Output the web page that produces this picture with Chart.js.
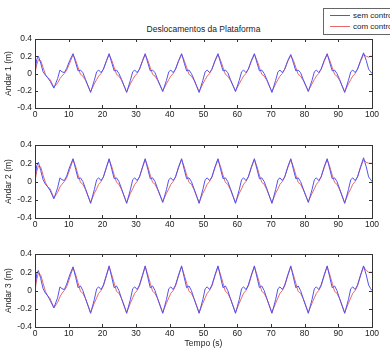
<!DOCTYPE html>
<html>
<head>
<meta charset="utf-8">
<script src="https://cdn.jsdelivr.net/npm/chart.js@4.4.0/dist/chart.umd.min.js"></script>
<style>
body{margin:0;width:390px;height:349px;overflow:hidden;background:#fff;position:relative;font-family:"Liberation Sans",Arial,sans-serif}
canvas{position:absolute;left:0}
#title{position:absolute;left:35px;width:337px;top:24px;text-align:center;font-size:8.5px;color:#222}
#legend{position:absolute;left:323px;top:8px;width:90px;height:25px;border:1px solid #666;background:#fff;font-size:8px;color:#222}
#legend div{position:absolute;left:6px;height:11px;line-height:11px;white-space:nowrap}
#legend span{display:inline-block;width:20px;height:0;vertical-align:middle;margin-right:3px}
</style>
</head>
<body>
<div id="title">Deslocamentos da Plataforma</div>
<canvas id="c1" width="390" height="95" style="top:29px"></canvas>
<canvas id="c2" width="390" height="99" style="top:135px"></canvas>
<canvas id="c3" width="390" height="105" style="top:244px"></canvas>
<div id="legend">
<div style="top:1px"><span style="border-top:1px solid #5252f0"></span>sem controle</div>
<div style="top:12px"><span style="border-top:1px solid #e86868"></span>com controle</div>
</div>
<script>
// tempo (s)
const tempo = [0,0.5,1.0,1.7,2.4,3.1,3.8,4.5,5.6,6.7,7.4,8.0,8.7,9.4,10.3,
11.3,12.1,12.8,13.5,14.2,15.0,16.5,17.6,18.3,18.9,19.6,20.3,21.2,
22.0,22.8,23.5,24.2,24.9,25.7,27.2,28.3,29.0,29.6,30.3,31.0,31.9,
32.7,33.5,34.2,34.9,35.6,36.4,37.9,39.0,39.7,40.3,41.0,41.7,42.6,
43.5,44.3,45.0,45.7,46.4,47.2,48.7,49.8,50.5,51.1,51.8,52.5,53.4,
54.3,55.1,55.8,56.5,57.2,58.0,59.5,60.6,61.3,61.9,62.6,63.3,64.2,
65.1,65.9,66.6,67.3,68.0,68.8,70.3,71.4,72.1,72.7,73.4,74.1,75.0,
75.9,76.7,77.4,78.1,78.8,79.6,81.1,82.2,82.9,83.5,84.2,84.9,85.8,
86.7,87.5,88.2,88.9,89.6,90.4,91.9,93.0,93.7,94.3,95.0,95.7,96.6,
97.5,98.3,99.0,99.6,100]

const andar1Sem = [0.03,0.16,0.20,0.12,0.02,-0.02,-0.05,-0.09,-0.17,-0.06,0.04,0.02,0.01,0.06,0.15,
0.23,0.12,0.03,0.04,0.01,-0.07,-0.22,-0.08,0.02,0.04,0.01,0.05,0.15,
0.23,0.12,0.03,0.04,0.00,-0.07,-0.22,-0.08,0.02,0.04,0.01,0.05,0.15,
0.23,0.12,0.03,0.04,0.01,-0.07,-0.21,-0.08,0.02,0.04,0.01,0.05,0.15,
0.23,0.12,0.03,0.04,0.00,-0.07,-0.22,-0.08,0.02,0.04,0.01,0.05,0.15,
0.23,0.12,0.03,0.04,0.01,-0.07,-0.21,-0.08,0.02,0.04,0.01,0.05,0.15,
0.23,0.12,0.03,0.04,0.00,-0.07,-0.22,-0.08,0.02,0.04,0.01,0.05,0.15,
0.22,0.12,0.03,0.04,0.01,-0.07,-0.21,-0.08,0.02,0.04,0.01,0.05,0.15,
0.23,0.12,0.03,0.04,0.00,-0.07,-0.22,-0.08,0.02,0.04,0.01,0.05,0.15,
0.24,0.15,0.05,0.02,0.00]
const andar1Com = [0.00,0.10,0.16,0.15,0.07,-0.01,-0.05,-0.07,-0.16,-0.11,-0.06,-0.03,0.00,0.04,0.12,
0.22,0.15,0.07,-0.01,-0.03,-0.08,-0.21,-0.12,-0.07,-0.03,0.00,0.05,0.14,
0.22,0.15,0.07,-0.01,-0.03,-0.08,-0.21,-0.12,-0.07,-0.03,0.00,0.05,0.14,
0.22,0.15,0.07,-0.01,-0.03,-0.08,-0.20,-0.12,-0.07,-0.03,0.00,0.05,0.14,
0.22,0.15,0.07,-0.01,-0.03,-0.08,-0.21,-0.12,-0.07,-0.03,0.00,0.05,0.14,
0.22,0.15,0.07,-0.01,-0.03,-0.08,-0.20,-0.12,-0.07,-0.03,0.00,0.05,0.14,
0.22,0.15,0.07,-0.01,-0.03,-0.08,-0.21,-0.12,-0.07,-0.03,0.00,0.05,0.14,
0.21,0.15,0.07,-0.01,-0.03,-0.08,-0.20,-0.12,-0.07,-0.03,0.00,0.05,0.14,
0.22,0.15,0.07,-0.01,-0.03,-0.08,-0.21,-0.12,-0.07,-0.03,0.00,0.05,0.14,
0.22,0.20,0.19,0.20,0.20]

const andar2Sem = [0.03,0.17,0.21,0.12,0.02,-0.03,-0.06,-0.10,-0.19,-0.07,0.04,0.02,0.01,0.06,0.16,
0.25,0.13,0.03,0.04,0.00,-0.08,-0.24,-0.09,0.02,0.04,0.01,0.05,0.16,
0.25,0.13,0.03,0.04,0.00,-0.08,-0.24,-0.09,0.02,0.04,0.01,0.05,0.16,
0.25,0.13,0.03,0.04,0.00,-0.08,-0.23,-0.09,0.02,0.04,0.01,0.05,0.16,
0.25,0.13,0.03,0.04,0.00,-0.08,-0.24,-0.09,0.02,0.04,0.01,0.05,0.16,
0.25,0.13,0.03,0.04,0.00,-0.08,-0.24,-0.09,0.02,0.04,0.01,0.05,0.16,
0.25,0.13,0.03,0.04,0.00,-0.08,-0.24,-0.09,0.02,0.04,0.01,0.05,0.16,
0.25,0.13,0.03,0.04,0.00,-0.08,-0.23,-0.09,0.02,0.04,0.01,0.05,0.16,
0.25,0.13,0.03,0.04,0.00,-0.08,-0.24,-0.09,0.02,0.04,0.01,0.05,0.16,
0.26,0.16,0.05,0.02,0.00]
const andar2Com = [0.00,0.11,0.17,0.16,0.07,-0.01,-0.06,-0.08,-0.18,-0.12,-0.06,-0.03,0.00,0.04,0.13,
0.24,0.16,0.07,-0.01,-0.03,-0.09,-0.23,-0.13,-0.08,-0.03,0.00,0.05,0.15,
0.24,0.16,0.07,-0.01,-0.03,-0.09,-0.23,-0.13,-0.08,-0.03,0.00,0.05,0.15,
0.24,0.16,0.07,-0.01,-0.03,-0.09,-0.22,-0.13,-0.08,-0.03,0.00,0.05,0.15,
0.24,0.16,0.07,-0.01,-0.03,-0.09,-0.23,-0.13,-0.08,-0.03,0.00,0.05,0.15,
0.24,0.16,0.07,-0.01,-0.03,-0.09,-0.23,-0.13,-0.08,-0.03,0.00,0.05,0.15,
0.24,0.16,0.07,-0.01,-0.03,-0.09,-0.23,-0.13,-0.08,-0.03,0.00,0.05,0.15,
0.24,0.16,0.07,-0.01,-0.03,-0.09,-0.22,-0.13,-0.08,-0.03,0.00,0.05,0.15,
0.24,0.16,0.07,-0.01,-0.03,-0.09,-0.23,-0.13,-0.08,-0.03,0.00,0.05,0.15,
0.24,0.21,0.20,0.20,0.20]

const andar3Sem = [0.03,0.18,0.22,0.13,0.02,-0.03,-0.06,-0.11,-0.19,-0.08,0.04,0.02,0.01,0.07,0.17,
0.26,0.14,0.03,0.05,0.00,-0.09,-0.25,-0.10,0.02,0.04,0.01,0.06,0.17,
0.27,0.14,0.03,0.05,0.00,-0.09,-0.25,-0.10,0.02,0.04,0.01,0.06,0.17,
0.27,0.14,0.03,0.05,0.00,-0.09,-0.25,-0.10,0.02,0.04,0.01,0.06,0.17,
0.27,0.14,0.03,0.05,0.00,-0.09,-0.25,-0.10,0.02,0.04,0.01,0.06,0.17,
0.27,0.14,0.03,0.05,0.00,-0.09,-0.25,-0.10,0.02,0.04,0.01,0.06,0.17,
0.27,0.14,0.03,0.05,0.00,-0.09,-0.25,-0.10,0.02,0.04,0.01,0.06,0.17,
0.27,0.14,0.03,0.05,0.00,-0.09,-0.25,-0.10,0.02,0.04,0.01,0.06,0.17,
0.27,0.14,0.03,0.05,0.00,-0.09,-0.25,-0.10,0.02,0.04,0.01,0.06,0.17,
0.27,0.17,0.06,0.02,0.00]
const andar3Com = [0.00,0.12,0.19,0.17,0.08,-0.01,-0.06,-0.09,-0.19,-0.13,-0.07,-0.03,0.00,0.04,0.14,
0.25,0.17,0.08,-0.01,-0.03,-0.09,-0.24,-0.14,-0.08,-0.03,0.00,0.05,0.16,
0.26,0.17,0.08,-0.01,-0.03,-0.09,-0.24,-0.14,-0.08,-0.03,0.00,0.05,0.16,
0.26,0.17,0.08,-0.01,-0.03,-0.09,-0.24,-0.14,-0.08,-0.03,0.00,0.05,0.16,
0.26,0.17,0.08,-0.01,-0.03,-0.09,-0.24,-0.14,-0.08,-0.03,0.00,0.05,0.16,
0.26,0.17,0.08,-0.01,-0.03,-0.09,-0.24,-0.14,-0.08,-0.03,0.00,0.05,0.16,
0.26,0.17,0.08,-0.01,-0.03,-0.09,-0.24,-0.14,-0.08,-0.03,0.00,0.05,0.16,
0.26,0.17,0.08,-0.01,-0.03,-0.09,-0.24,-0.14,-0.08,-0.03,0.00,0.05,0.16,
0.26,0.17,0.08,-0.01,-0.03,-0.09,-0.24,-0.14,-0.08,-0.03,0.00,0.05,0.16,
0.26,0.22,0.20,0.20,0.20]

const yTicks = [-0.4,-0.2,0,0.2,0.4]
const yTickLabels = ["-0.4","-0.2","0","0.2","0.4"]
const xTicks = [0,10,20,30,40,50,60,70,80,90,100]

const fontTick = {family:"Liberation Sans", size:8.5}

// matlab style box with inward ticks
const boxTicks = {
  id:"boxTicks",
  afterDraw(chart){
    const c = chart.ctx, a = chart.chartArea
    const xs = chart.scales.x, ys = chart.scales.y
    c.save()
    c.strokeStyle = "#333"
    c.lineWidth = 1
    c.strokeRect(Math.round(a.left)+0.5, Math.round(a.top)+0.5, Math.round(a.right-a.left), Math.round(a.bottom-a.top))
    c.beginPath()
    xTicks.forEach(v => {
      const px = Math.round(xs.getPixelForValue(v))+0.5
      c.moveTo(px,a.bottom); c.lineTo(px,a.bottom-3)
      c.moveTo(px,a.top); c.lineTo(px,a.top+3)
    })
    yTicks.forEach(v => {
      const py = Math.round(ys.getPixelForValue(v))+0.5
      c.moveTo(a.left,py); c.lineTo(a.left+3,py)
      c.moveTo(a.right,py); c.lineTo(a.right-3,py)
    })
    c.stroke()
    c.restore()
  }
}

function panel(id, sem, com, label, xTitle){
  const semPts = tempo.map((t,i) => ({x:t, y:sem[i]}))
  const comPts = tempo.map((t,i) => ({x:t, y:com[i]}))
  return new Chart(document.getElementById(id), {
    type:"line",
    data:{
      datasets:[
        {label:"sem controle", data:semPts, borderColor:"#5252f0", borderWidth:1, pointRadius:0, tension:0},
        {label:"com controle", data:comPts, borderColor:"#e86868", borderWidth:1, pointRadius:0, tension:0}
      ]
    },
    options:{
      responsive:false,
      animation:false,
      layout:{padding:{left:0,right:18,top:10,bottom:0}},
      plugins:{legend:{display:false}, tooltip:{enabled:false}},
      scales:{
        x:{
          type:"linear", min:0, max:100,
          afterBuildTicks: s => { s.ticks = xTicks.map(v => ({value:v})) },
          afterFit: s => { s.height = xTitle ? 22 : 16 },
          grid:{display:false, drawTicks:false}, border:{display:false},
          ticks:{font:fontTick, color:"#222", padding:2, maxRotation:0, autoSkip:false},
          title:{display:!!xTitle, text:xTitle, font:fontTick, color:"#222", padding:{top:0,bottom:0}}
        },
        y:{
          min:-0.4, max:0.4,
          afterBuildTicks: s => { s.ticks = yTicks.map(v => ({value:v})) },
          afterFit: s => { s.width = 35 },
          grid:{display:false, drawTicks:false}, border:{display:false},
          ticks:{font:fontTick, color:"#222", padding:3, callback:(v) => yTickLabels[yTicks.indexOf(v)]},
          title:{display:true, text:label, font:fontTick, color:"#222", padding:{top:4,bottom:0}}
        }
      }
    },
    plugins:[boxTicks]
  })
}

panel("c1", andar1Sem, andar1Com, "Andar 1 (m)")
panel("c2", andar2Sem, andar2Com, "Andar 2 (m)")
panel("c3", andar3Sem, andar3Com, "Andar 3 (m)", "Tempo (s)")
</script>
</body>
</html>
